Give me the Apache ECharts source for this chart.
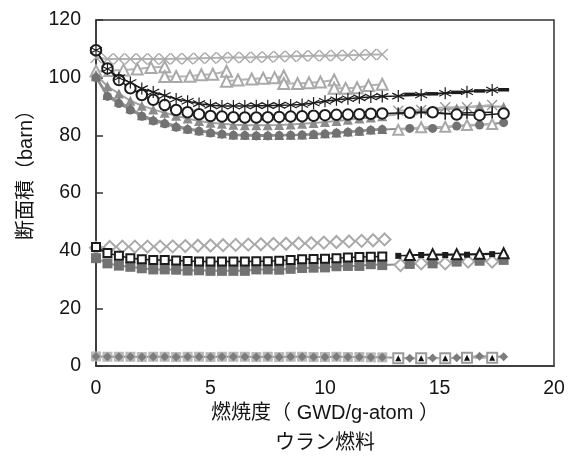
<!DOCTYPE html>
<html>
<head>
<meta charset="utf-8">
<script src="https://cdn.jsdelivr.net/npm/echarts@6/dist/echarts.min.js"></script>
<style>
  html, body { margin: 0; padding: 0; background: #fff; }
  #chart { width: 575px; height: 456px; }
</style>
</head>
<body>
<div id="chart"></div>
<script>
// Burn-up (GWD/g-atom) positions of the fine-step calculation and the two coarse sets
const xDense = [0, 0.5, 1, 1.5, 2, 2.5, 3, 3.5, 4, 4.5, 5, 5.5, 6, 6.5, 7, 7.5, 8, 8.5, 9, 9.5, 10, 10.5, 11, 11.5, 12, 12.5];
const xLateA = [13.2, 14.2, 15.25, 16.2, 17.3];
const xLateB = [13.7, 14.7, 15.75, 16.75, 17.8];
const xSaw = [0, 0.6, 1.2, 1.8, 2.4, 3.0, 3.0, 3.5, 4.1, 4.6, 5.1, 5.7, 5.7, 6.2, 6.8, 7.3, 7.8, 8.2, 8.2, 8.8, 9.3, 9.8, 10.4, 10.4, 10.9, 11.4, 11.9, 12.5];
const xDiamond = [0, 0.6, 1.15, 1.7, 2.25, 2.8, 3.35, 3.9, 4.45, 5.0, 5.55, 6.1, 6.65, 7.2, 7.75, 8.3, 8.85, 9.4, 9.95, 10.5, 11.05, 11.6, 12.1, 12.6];
const xDiamondLate = [13.3, 14.2, 15.25, 16.25, 17.3];

// Cross sections (barn) - upper group
const crossLight = [107, 106.5, 106.5, 106.5, 106.5, 106.5, 106.5, 106.6, 106.6, 106.7, 106.8, 106.9, 107, 107, 107.1, 107.2, 107.3, 107.4, 107.5, 107.6, 107.6, 107.7, 107.8, 107.9, 108, 108];
const sawTri = [102.3, 102.5, 102.7, 103, 103.5, 103.8, 100.4, 100.4, 100.5, 101, 101.2, 102.2, 98.8, 99.2, 99.5, 99.8, 100, 100.6, 98, 98, 98.2, 98.5, 99.2, 96.3, 96.3, 96.5, 97.3, 97.7];
const starDense = [109.5, 103, 100, 98.3, 96.2, 95, 93.8, 92.6, 91.8, 91, 90.4, 90.2, 90.2, 90.2, 90.3, 90.3, 90.4, 90.5, 90.7, 91.2, 91.8, 92.3, 92.7, 93, 93.3, 93.5];
const starLate = [93.6, 94, 94.6, 95.1, 95.7];
const dashLate = [94.2, 94.4, 94.9, 95.4, 95.8];
const circDense = [109.5, 103.2, 99.2, 96.3, 94, 92.3, 90.5, 88.8, 88, 87.3, 86.7, 86.5, 86.3, 86.2, 86.2, 86.3, 86.4, 86.5, 86.6, 86.8, 87, 87.1, 87.2, 87.3, 87.5, 87.6];
const circLate = [87.8, 88, 87.2, 87, 87.6];
const plusLate = [87.6, 88, 87.5, 87.8, 88];
const triMidDense = [101, 97, 94.5, 92, 90.3, 89, 87.8, 86.8, 85.8, 85, 84.4, 84, 83.7, 83.5, 83.5, 83.5, 83.6, 83.8, 84, 84.3, 84.6, 85, 85.4, 85.8, 86.2, 86.6];
const triMidLate = [88, 88.6, 89.4, 90.2, 89.9];
const triDarkDense = [100.5, 94, 91.7, 89.4, 87, 85.5, 84.5, 83.3, 82.4, 81.8, 81.2, 80.7, 80.3, 80.2, 80.1, 80.1, 80.1, 80.2, 80.3, 80.5, 80.7, 81, 81.3, 81.6, 82, 82.2];
const dotDense = [100, 93.5, 91, 88.8, 86.6, 85, 84, 82.8, 82, 81.4, 80.8, 80.4, 80, 79.9, 79.8, 79.8, 79.9, 80, 80.1, 80.3, 80.5, 80.8, 81.1, 81.4, 81.8, 82];
const dotLate = [82.4, 82.4, 83.2, 83.6, 84.4];
const openTriLate = [81.9, 82.8, 83, 83.6, 83.9];
const crossMidLate = [88.5, 88.8, 89.7, 89.7, 90.5];

// Middle group
const diamondDense = [41, 41.3, 41.4, 41.4, 41.4, 41.4, 41.5, 41.6, 41.7, 41.8, 41.9, 42, 42.1, 42.2, 42.3, 42.4, 42.5, 42.6, 42.8, 43, 43.2, 43.4, 43.6, 43.9];
const diamondLate = [35, 35.6, 35.6, 36.2, 36.2];
const sqDarkDense = [37.4, 35.6, 34.8, 34.4, 33.9, 33.5, 33.5, 33.4, 33.1, 33.2, 33, 33, 33, 33, 33.5, 33.5, 33.4, 33.7, 34, 34.1, 34.2, 34.6, 34.7, 34.7, 35.3, 35];
const sqDarkLate = [35.4, 35.6, 36.2, 36.5, 36.8];
const sqOpenDense = [41.3, 39.2, 38.2, 37.4, 37, 36.8, 36.8, 36.6, 36.4, 36.2, 36.2, 36.2, 36.2, 36.2, 36.3, 36.3, 36.5, 36.8, 37, 37.1, 37.2, 37.4, 37.6, 37.8, 37.9, 38];
const sqBlackLate = [38.2, 38.5, 38.5, 38.6, 38.8];
const triBlackLate = [38.5, 38.8, 38.8, 38.9, 39.1];

// Lower group
const lowDense = [3.3, 3.2, 3.2, 3.2, 3.1, 3.2, 3.2, 3.1, 3.2, 3.2, 3.1, 3.2, 3.2, 3.2, 3.1, 3.2, 3.1, 3.2, 3.2, 3.1, 3.1, 3.2, 3.1, 3.1, 3.0, 3.0];
const lowDiamondLate = [2.7, 2.8, 2.9, 3.4, 3.2];
const lowSquareLate = [2.7, 2.7, 2.7, 2.9, 2.9];

// Axis ticks
const xTicks = { min: 0, max: 20, step: 5 };
const yTicks = { min: 0, max: 120, step: 20 };

const pts = (xs, ys) => xs.map((x, i) => [x, ys[i]]);

const FONT = "'Liberation Sans', 'Noto Sans CJK JP', sans-serif";
const TEXT = '#141414';
const BLACK = '#1c1c1c';
const LIGHT = '#a9a9a9';
const LIGHT_LINE = '#b3b3b3';
const MID = '#8c8c8c';
const DARK = '#727272';

const SYM_X = 'path://M0,0L10,10M0,10L10,0';
const SYM_STAR = 'path://M5,0L5,10M0.7,2.5L9.3,7.5M0.7,7.5L9.3,2.5';

function line(data, o) {
  return {
    type: 'line',
    data: data,
    showAllSymbol: true,
    silent: true,
    animation: false,
    lineStyle: { color: o.lc, width: o.lw || 2 },
    symbol: o.sym,
    symbolSize: o.size,
    itemStyle: o.item,
    z: o.z || 2
  };
}

const series = [
  // upper group, gray curves
  line(pts(xDense, crossLight), { lc: LIGHT_LINE, sym: SYM_X, size: 11, item: { color: 'rgba(0,0,0,0)', borderColor: LIGHT, borderWidth: 1.4 } }),
  line(pts(xSaw, sawTri), { lc: LIGHT_LINE, sym: 'emptyTriangle', size: 11, item: { color: LIGHT, borderWidth: 1.5 } }),
  line(pts(xDense, triMidDense).concat(pts(xLateB, triMidLate)), { lc: '#a2a2a2', sym: 'triangle', size: 10, item: { color: MID } }),
  line(pts(xDense, dotDense).concat(pts(xLateB, dotLate)), { lc: '#8e8e8e', sym: 'circle', size: 9, item: { color: DARK } }),
  line(pts(xDense, triDarkDense), { lc: '#8e8e8e', sym: 'triangle', size: 10, item: { color: DARK } }),
  line(pts(xLateA, openTriLate), { lc: LIGHT_LINE, sym: 'emptyTriangle', size: 10, item: { color: LIGHT, borderWidth: 1.5 } }),
  line(pts(xLateA, crossMidLate), { lc: LIGHT_LINE, sym: SYM_X, size: 10, item: { color: 'rgba(0,0,0,0)', borderColor: '#999', borderWidth: 1.4 } }),
  // upper group, black curves
  line(pts(xDense, circDense).concat(pts(xLateB, circLate)), { lc: BLACK, lw: 1.5, sym: 'emptyCircle', size: 10.5, item: { color: BLACK, borderWidth: 1.5 }, z: 3 }),
  line(pts(xLateA, plusLate), { lc: BLACK, lw: 1.5, sym: 'rect', size: [1.6, 12], item: { color: BLACK }, z: 3 }),
  line(pts(xDense, starDense).concat(pts(xLateA, starLate)), { lc: BLACK, lw: 1.5, sym: SYM_STAR, size: 12, item: { color: 'rgba(0,0,0,0)', borderColor: BLACK, borderWidth: 1.2 }, z: 3 }),
  line(pts(xLateB, dashLate), { lc: BLACK, lw: 1.5, sym: 'rect', size: [11, 3.5], item: { color: BLACK }, z: 3 }),
  // middle group
  line(pts(xDiamond, diamondDense), { lc: LIGHT_LINE, sym: 'emptyDiamond', size: 12, item: { color: LIGHT, borderWidth: 1.5 } }),
  line(pts(xDiamondLate, diamondLate), { lc: LIGHT_LINE, sym: 'emptyDiamond', size: 12, item: { color: LIGHT, borderWidth: 1.5 } }),
  line(pts(xDense, sqDarkDense).concat(pts(xLateB, sqDarkLate)), { lc: '#8e8e8e', sym: 'rect', size: 10, item: { color: DARK } }),
  line(pts(xDense, sqOpenDense), { lc: BLACK, lw: 1.5, sym: 'emptyRect', size: 8, item: { color: BLACK, borderWidth: 1.3 }, z: 3 }),
  line(pts(xLateA, sqBlackLate), { lc: BLACK, lw: 1.5, sym: 'rect', size: 6, item: { color: BLACK }, z: 3 }),
  line(pts(xLateB, triBlackLate), { lc: BLACK, lw: 1.5, sym: 'emptyTriangle', size: 10, item: { color: BLACK, borderWidth: 1.4 }, z: 3 }),
  // lower group
  line(pts(xDense, lowDense), { lc: LIGHT_LINE, sym: 'rect', size: 10, item: { color: '#b9b9b9' } }),
  line(pts(xDense, lowDense).concat(pts(xLateB, lowDiamondLate)), { lc: '#999', sym: 'diamond', size: 9, item: { color: '#7c7c7c' } }),
  line(pts(xLateA, lowSquareLate), { lc: LIGHT_LINE, sym: 'emptyRect', size: 10, item: { color: '#9a9a9a', borderWidth: 1.4 } }),
  line(pts(xLateA, lowSquareLate), { lc: 'rgba(0,0,0,0)', lw: 0, sym: 'triangle', size: 6, item: { color: '#111' }, z: 3 })
];

const chart = echarts.init(document.getElementById('chart'), null, { renderer: 'canvas' });
chart.setOption({
  animation: false,
  backgroundColor: '#fff',
  textStyle: { fontFamily: FONT },
  grid: { left: 96, right: 21, top: 20, bottom: 90, show: true, borderColor: '#333', borderWidth: 1.5, backgroundColor: 'rgba(0,0,0,0)' },
  xAxis: {
    type: 'value', min: xTicks.min, max: xTicks.max, interval: xTicks.step,
    name: '燃焼度（ GWD/g-atom ）', nameLocation: 'middle', nameGap: 36,
    nameTextStyle: { fontSize: 20, color: TEXT, fontFamily: FONT },
    axisLine: { show: true, lineStyle: { color: '#333', width: 1.5 } },
    axisTick: { show: false },
    splitLine: { show: false },
    axisLabel: { fontSize: 19.5, color: TEXT, margin: 13, fontFamily: FONT }
  },
  yAxis: {
    type: 'value', min: yTicks.min, max: yTicks.max, interval: yTicks.step,
    axisLine: { show: true, lineStyle: { color: '#333', width: 1.5 } },
    axisTick: { show: true, inside: true, length: 7, lineStyle: { color: '#333', width: 1.5 } },
    splitLine: { show: false },
    axisLabel: { fontSize: 19.5, color: TEXT, margin: 15, fontFamily: FONT }
  },
  graphic: [
    {
      type: 'text', x: 26, y: 170, rotation: Math.PI / 2, silent: true,
      style: { text: '断面積（barn）', fontSize: 20, fill: TEXT, fontFamily: FONT, align: 'center', verticalAlign: 'middle' }
    },
    {
      type: 'text', x: 325, y: 443, silent: true,
      style: { text: 'ウラン燃料', fontSize: 20, fill: TEXT, fontFamily: FONT, align: 'center', verticalAlign: 'middle' }
    }
  ],
  series: series
});
</script>
</body>
</html>
